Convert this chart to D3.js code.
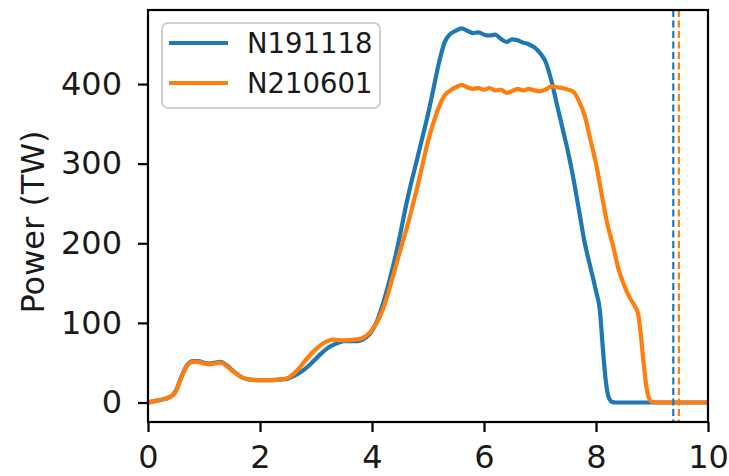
<!DOCTYPE html>
<html><head><meta charset="utf-8">
<script src="https://cdn.jsdelivr.net/npm/d3@7"></script>
<style>body{margin:0;background:#fff}svg{display:block}text{font-family:"DejaVu Sans",sans-serif}</style>
</head><body><svg id="c" width="729" height="476"></svg>
<script>
const seriesNames = ["N191118", "N210601"];
const colors = ["#1f77b4", "#ff7f0e"];
const t191118 = [0,0.2,0.4,0.5,0.6,0.7,0.8,0.9,1.0,1.1,1.2,1.3,1.4,1.5,1.6,1.7,1.8,2.0,2.2,2.4,2.5,2.6,2.7,2.8,2.9,3.0,3.1,3.2,3.3,3.4,3.5,3.7,3.8,3.9,4.0,4.1,4.2,4.3,4.4,4.5,4.6,4.7,4.8,4.9,5.0,5.1,5.2,5.3,5.4,5.5,5.6,5.7,5.8,5.9,6.0,6.1,6.2,6.3,6.4,6.5,6.6,6.7,6.8,6.9,7.0,7.1,7.2,7.3,7.4,7.5,7.6,7.7,7.8,7.9,8.0,8.07,8.12,8.17,8.22,8.28,8.35,9.0,10];
const p191118 = [0,3,7,15,33,47,52,52,50,49,50,51,47,41,35,31,29,28,28,29,30,33,37,42,48,55,62,68,72,75,77,77,78,82,90,104,125,150,178,210,245,276,304,333,362,395,428,453,463,467,470,467,464,465,462,461,462,457,453,456,455,452,450,446,439,428,405,375,345,315,280,240,200,170,140,115,70,30,8,1,0,0,0];
const t210601 = [0,0.2,0.4,0.5,0.6,0.7,0.8,0.9,1.0,1.1,1.2,1.3,1.4,1.5,1.6,1.7,1.8,2.0,2.2,2.4,2.5,2.6,2.7,2.8,2.9,3.0,3.1,3.2,3.3,3.5,3.7,3.8,3.9,4.0,4.1,4.2,4.3,4.4,4.5,4.6,4.7,4.8,4.9,5.0,5.1,5.2,5.3,5.4,5.5,5.6,5.7,5.8,5.9,6.0,6.1,6.2,6.3,6.4,6.5,6.6,6.7,6.8,6.9,7.0,7.1,7.2,7.3,7.4,7.5,7.6,7.7,7.8,7.9,8.0,8.1,8.2,8.3,8.4,8.5,8.6,8.7,8.75,8.8,8.85,8.9,8.95,9.0,9.1,10];
const p210601 = [0,3,7,14,32,46,51,51,49,48,49,50,46,40,35,31,29,28,28,29,31,36,43,52,60,67,73,77,79,78,79,80,84,91,102,118,140,165,190,214,240,268,298,328,352,372,386,392,396,399,396,394,395,393,395,392,393,389,391,394,392,394,392,391,393,397,396,395,393,390,378,360,330,300,262,225,198,168,148,132,120,112,85,50,20,5,1,0,0];
const endTimes = [9.38, 9.48];
const xTicks = [0,2,4,6,8,10];
const yTicks = [0,100,200,300,400];
const yLabel = "Power (TW)";

const svg = d3.select("#c");
const L=148,R=708,T=10,B=422;
const x = d3.scaleLinear().domain([0,10]).range([L,R]);
const y = d3.scaleLinear().domain([-24.5,493]).range([B,T]);

svg.append("clipPath").attr("id","clp").append("rect").attr("x",L).attr("y",T).attr("width",R-L).attr("height",B-T);

const series = [
  {name: seriesNames[0], t: t191118, p: p191118, color: colors[0]},
  {name: seriesNames[1], t: t210601, p: p210601, color: colors[1]}
];
const line = d3.line().x(d=>x(d[0])).y(d=>y(d[1])).curve(d3.curveMonotoneX);
const g = svg.append("g").attr("clip-path","url(#clp)");
series.forEach(s=>{
  g.append("path").datum(s.t.map((tt,i)=>[tt,s.p[i]]))
    .attr("d",line).attr("fill","none").attr("stroke",s.color)
    .attr("stroke-width",4.2).attr("stroke-linejoin","round").attr("stroke-linecap","butt");
});
endTimes.forEach((et,i)=>{
  svg.append("line").attr("x1",x(et)).attr("x2",x(et)).attr("y1",T).attr("y2",B)
    .attr("stroke",colors[i]).attr("stroke-width",2.2).attr("stroke-dasharray","7,3.5");
});

svg.append("rect").attr("x",L).attr("y",T).attr("width",R-L).attr("height",B-T)
  .attr("fill","none").attr("stroke","#000").attr("stroke-width",2.2);

const xa = svg.append("g").attr("transform",`translate(0,${B})`)
  .call(d3.axisBottom(x).tickValues(xTicks).tickFormat(d3.format("d")).tickSize(10).tickPadding(13));
const ya = svg.append("g").attr("transform",`translate(${L},0)`)
  .call(d3.axisLeft(y).tickValues(yTicks).tickFormat(d3.format("d")).tickSize(10).tickPadding(16));
[xa,ya].forEach(a=>{
  a.select(".domain").remove();
  a.selectAll(".tick line").attr("stroke","#000").attr("stroke-width",2.2);
  a.selectAll(".tick text").attr("fill","#1a1a1a").style("font-size","32px").style("font-family","DejaVu Sans");
});

svg.append("text").attr("transform",`translate(44,222) rotate(-90)`)
  .attr("text-anchor","middle").style("font-size","32px").attr("fill","#1a1a1a").text(yLabel);

const lg = svg.append("g");
lg.append("rect").attr("x",162).attr("y",23).attr("width",218).attr("height",85).attr("rx",6)
  .attr("fill","#fff").attr("fill-opacity",0.8).attr("stroke","#d0d0d0").attr("stroke-width",2);
series.forEach((s,i)=>{
  const yy = 43 + i*40;
  lg.append("line").attr("x1",169).attr("x2",228).attr("y1",yy).attr("y2",yy)
    .attr("stroke",s.color).attr("stroke-width",4.2);
  lg.append("text").attr("x",247).attr("y",yy+10).style("font-size","27.5px").attr("fill","#1a1a1a").text(s.name);
});
</script></body></html>
